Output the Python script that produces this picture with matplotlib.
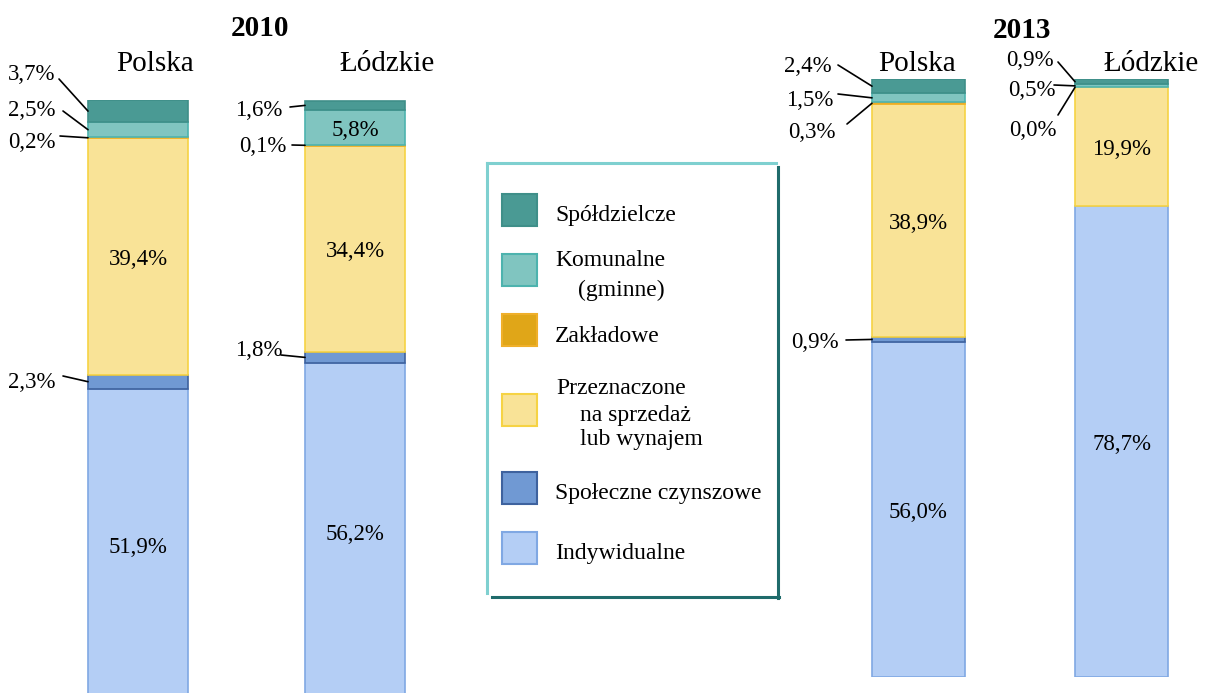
import matplotlib.pyplot as plt
from matplotlib.patches import Rectangle
from matplotlib.lines import Line2D
from matplotlib.transforms import offset_copy

plt.rcParams['font.family'] = ['Liberation Serif', 'DejaVu Serif']

# Housing completions by form of construction, share in %
series = ["Indywidualne", "Społeczne czynszowe", "Przeznaczone na sprzedaż lub wynajem",
          "Zakładowe", "Komunalne (gminne)", "Spółdzielcze"]
regions = ["Polska", "Łódzkie"]
years = ["2010", "2013"]

values_2010 = {
    "Polska":  [51.9, 2.3, 39.4, 0.2, 2.5, 3.7],
    "Łódzkie": [56.2, 1.8, 34.4, 0.1, 5.8, 1.6],
}
values_2013 = {
    "Polska":  [56.0, 0.9, 38.9, 0.3, 1.5, 2.4],
    "Łódzkie": [78.7, 0.0, 19.9, 0.0, 0.5, 0.9],
}

face_colors = ["#B4CEF5", "#7099D3", "#F9E397", "#E0A618", "#80C5C0", "#4A9A94"]
edge_colors = ["#80A8E3", "#3E629E", "#F6D344", "#EFAF2A", "#4DB3AE", "#3F8F89"]

W, H = 1205, 693
fig = plt.figure(figsize=(W / 100, H / 100), dpi=100)


def px_axes(left, right, top, bottom):
    return fig.add_axes([left / W, (H - bottom) / H, (right - left) / W, (bottom - top) / H])


# Overlay in image pixel coordinates for text and legend
ov = fig.add_axes([0, 0, 1, 1])
ov.set_xlim(0, W)
ov.set_ylim(H, 0)
ov.axis("off")

ax1 = px_axes(0, 480, 100, 700)
ax2 = px_axes(780, 1205, 79, 677)
ov.set_zorder(3)
ov.patch.set_alpha(0)

DY = 3  # vertical nudge of text (pixels, downward)


def txt(x, y, s, **kw):
    ov.text(x, y + DY, s, **kw)


def draw_group(ax, data, centre0, spacing, width_px, left_px, right_px):
    ax.set_xlim((left_px - centre0) / spacing, (right_px - centre0) / spacing)
    ax.set_ylim(0, 100)
    ax.axis("off")
    w = width_px / spacing
    for i, reg in enumerate(regions):
        vals = data[reg]
        bottom = 0.0
        for k, v in enumerate(vals):
            if v > 0:
                ax.bar(i, v, bottom=bottom, width=w, color=face_colors[k],
                       edgecolor=edge_colors[k], linewidth=1.2, zorder=2)
            bottom += v
    return w


w1 = draw_group(ax1, values_2010, 138, 217, 100, 0, 480)
w2 = draw_group(ax2, values_2013, 918.5, 203, 93, 780, 1205)


def fmt(v):
    return f"{v:.1f}".replace(".", ",") + "%"


def seg_mid(vals, k):
    return sum(vals[:k]) + vals[k] / 2


LBL = 16.5

# Values printed inside the large segments
inner = [
    (ax1, values_2010, 0, [0, 2]), (ax1, values_2010, 1, [0, 2, 4]),
    (ax2, values_2013, 0, [0, 2]), (ax2, values_2013, 1, [0, 2]),
]
for ax, data, i, ks in inner:
    vals = data[regions[i]]
    shifted = offset_copy(ax.transData, fig=fig, y=-DY, units="dots")
    for k in ks:
        ax.text(i, seg_mid(vals, k), fmt(vals[k]), ha="center", va="center",
                fontsize=LBL, zorder=4, transform=shifted)

# Small segments: label outside with a leader line (label pos, line start in pixels)
outer = [
    (ax1, values_2010, 0, w1, 5, (32, 72), (59, 79)),
    (ax1, values_2010, 0, w1, 4, (32, 107), (63, 111)),
    (ax1, values_2010, 0, w1, 3, (32, 139), (60, 136)),
    (ax1, values_2010, 0, w1, 1, (32, 380), (63, 376)),
    (ax1, values_2010, 1, w1, 5, (259, 107), (290, 107)),
    (ax1, values_2010, 1, w1, 3, (263, 144), (292, 145)),
    (ax1, values_2010, 1, w1, 1, (259, 348), (281, 355)),
    (ax2, values_2013, 0, w2, 5, (808, 63), (838, 65)),
    (ax2, values_2013, 0, w2, 4, (810, 97), (838, 94)),
    (ax2, values_2013, 0, w2, 3, (812, 130), (847, 124)),
    (ax2, values_2013, 0, w2, 1, (815, 340), (846, 340)),
    (ax2, values_2013, 1, w2, 5, (1030, 57), (1058, 62)),
    (ax2, values_2013, 1, w2, 4, (1032, 87), (1054, 85)),
    (ax2, values_2013, 1, w2, 3, (1033, 128), (1058, 115)),
]
for ax, data, i, w, k, (tx, ty), (lx, ly) in outer:
    vals = data[regions[i]]
    txt(tx, ty, fmt(vals[k]), ha="center", va="center", fontsize=LBL)
    ax.annotate("", xy=(i - w / 2, seg_mid(vals, k)), xycoords="data",
                xytext=(lx, ly), textcoords=ov.transData,
                arrowprops=dict(arrowstyle="-", lw=1.2, color="black",
                                shrinkA=0, shrinkB=0), zorder=5)

# Year titles and region names
txt(260, 25, years[0], ha="center", va="center", fontsize=21, fontweight="bold")
txt(1022, 27, years[1], ha="center", va="center", fontsize=21, fontweight="bold")
for (x, y), name in zip([(155, 61), (387, 61), (917, 61), (1151, 61)], regions * 2):
    txt(x, y, name, ha="center", va="center", fontsize=21)

# Legend box with two-tone frame
ov.add_line(Line2D([487, 487], [163, 593], color="#7FD0D0", lw=2.2))
ov.add_line(Line2D([487, 776], [163, 163], color="#7FD0D0", lw=2.2))
ov.add_line(Line2D([778, 778], [167, 598], color="#1F6B6B", lw=2.2))
ov.add_line(Line2D([492, 779], [597, 597], color="#1F6B6B", lw=2.2))

legend_rows = [
    (5, 194, [("Spółdzielcze", 555, 213)]),
    (4, 254, [("Komunalne", 555, 258), ("(gminne)", 578, 287)]),
    (3, 314, [("Zakładowe", 555, 333)]),
    (2, 394, [("Przeznaczone", 556, 386), ("na sprzedaż", 580, 412), ("lub wynajem", 580, 437)]),
    (1, 472, [("Społeczne czynszowe", 555, 490)]),
    (0, 532, [("Indywidualne", 555, 550)]),
]
for k, top, lines in legend_rows:
    ov.add_patch(Rectangle((502, top), 35, 32, facecolor=face_colors[k],
                           edgecolor=edge_colors[k], lw=1.5))
    for s, x, y in lines:
        txt(x, y, s, ha="left", va="center", fontsize=17)

fig.savefig("out.png", dpi=100)
